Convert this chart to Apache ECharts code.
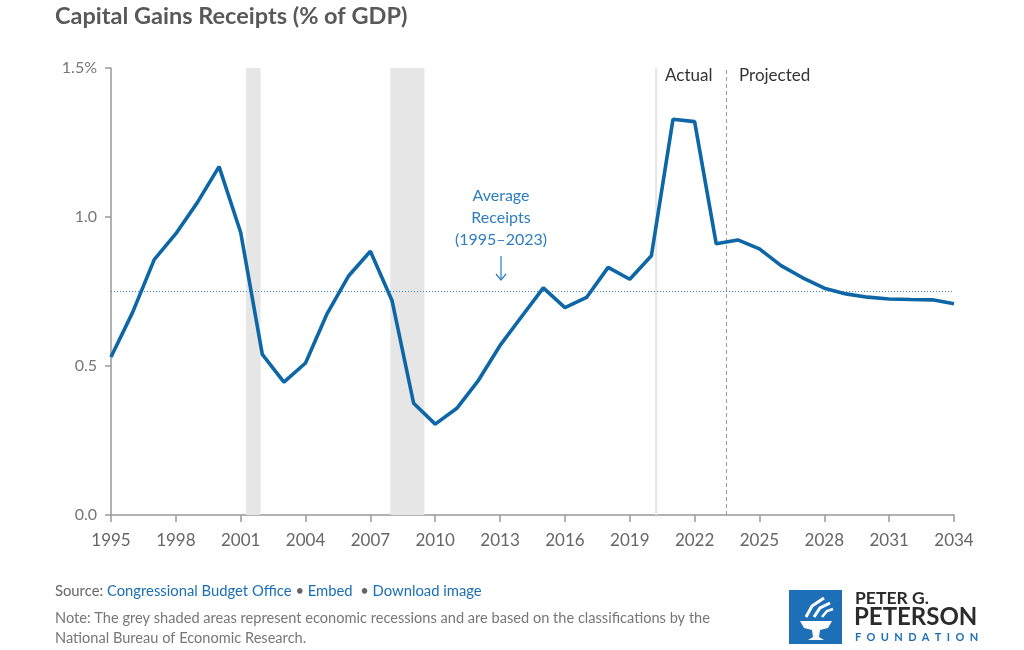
<!DOCTYPE html>
<html>
<head>
<meta charset="utf-8">
<style>
  html, body { margin:0; padding:0; background:#fff; }
  #chart { width:1024px; height:650px; }
</style>
<script src="https://cdn.jsdelivr.net/npm/echarts@6/dist/echarts.min.js"></script>
</head>
<body>
<div id="chart"></div>
<script>
const years = [1995,1996,1997,1998,1999,2000,2001,2002,2003,2004,2005,2006,2007,2008,2009,2010,2011,2012,2013,2014,2015,2016,2017,2018,2019,2020,2021,2022,2023,2024,2025,2026,2027,2028,2029,2030,2031,2032,2033,2034];
const receipts = [0.53,0.68,0.857,0.944,1.049,1.169,0.948,0.539,0.446,0.51,0.676,0.803,0.885,0.72,0.375,0.305,0.358,0.452,0.569,0.666,0.762,0.696,0.73,0.831,0.791,0.870,1.328,1.320,0.910,0.923,0.893,0.837,0.796,0.761,0.742,0.731,0.725,0.723,0.722,0.709];
const averageReceipts = 0.75;
const recessions = [[2001.25, 2001.92], [2007.92, 2009.5], [2020.17, 2020.27]];
const projectionStart = 2023.45;
const yTicks = ['0.0','0.5','1.0','1.5%'];

const chart = echarts.init(document.getElementById('chart'));
const FONT = 'Lato, "Open Sans", sans-serif';
const option = {
  animation: false,
  textStyle: { fontFamily: FONT },
  grid: { left: 111, right: 70, top: 68, bottom: 135 },
  xAxis: {
    type: 'value', min: 1995, max: 2034, interval: 3,
    axisLine: { show: true, lineStyle: { color: '#999', width: 1.5 } },
    axisTick: { show: true, length: 7, lineStyle: { color: '#999', width: 1.5 } },
    axisLabel: { color: '#666', fontSize: 17, margin: 17, fontFamily: FONT, formatter: v => String(v) },
    splitLine: { show: false }
  },
  yAxis: {
    type: 'value', min: 0, max: 1.5, interval: 0.5,
    axisLine: { show: true, lineStyle: { color: '#999', width: 1.5 } },
    axisTick: { show: true, length: 6, lineStyle: { color: '#999', width: 1.5 } },
    axisLabel: { color: '#777', fontSize: 16, margin: 14, fontFamily: FONT,
      formatter: v => yTicks[Math.round(v / 0.5)] },
    splitLine: { show: false }
  },
  series: [{
    type: 'line',
    data: years.map((y, i) => [y, receipts[i]]),
    showSymbol: false,
    lineStyle: { color: '#0d66a6', width: 3.6 },
    z: 5,
    markArea: {
      silent: true,
      itemStyle: { color: '#e6e6e6' },
      data: recessions.map(r => [{ xAxis: r[0] }, { xAxis: r[1] }])
    },
    markLine: {
      silent: true, symbol: 'none',
      label: { show: false },
      data: [
        { yAxis: averageReceipts, lineStyle: { color: '#3a86c8', type: [1, 2], width: 1 } },
        { xAxis: projectionStart, lineStyle: { color: '#999', type: [4, 3], width: 1 } }
      ]
    }
  }],
  graphic: [
    { type: 'text', left: 55, top: 4, style: { text: 'Capital Gains Receipts (% of GDP)', fill: '#595959', font: 'bold 23.5px ' + FONT } },
    { type: 'text', left: 665, top: 67, style: { text: 'Actual', fill: '#333', font: '17px ' + FONT } },
    { type: 'text', left: 739, top: 67, style: { text: 'Projected', fill: '#333', font: '17px ' + FONT } },
    { type: 'text', x: 501, y: 185, style: { text: 'Average\nReceipts\n(1995–2023)', fill: '#2f7ec0', font: '16px ' + FONT, align: 'center', lineHeight: 22 } },
    { type: 'line', shape: { x1: 501, y1: 256, x2: 501, y2: 280 }, style: { stroke: '#2f7ec0', lineWidth: 1.2 } },
    { type: 'polyline', shape: { points: [[496, 274], [501, 280], [506, 274]] }, style: { stroke: '#2f7ec0', lineWidth: 1.2, fill: 'none' } },
    { type: 'text', left: 55, top: 584, style: {
      rich: {
        g: { fill: '#666', font: '14.8px ' + FONT },
        b: { fill: '#1a6fb5', font: '14.8px ' + FONT }
      },
      text: '{g|Source: }{b|Congressional Budget Office}{g| • }{b|Embed}{g|  • }{b|Download image}'
    } },
    { type: 'text', left: 55, top: 608, style: { text: 'Note: The grey shaded areas represent economic recessions and are based on the classifications by the\nNational Bureau of Economic Research.', fill: '#777', font: '14.6px ' + FONT, lineHeight: 20 } },
    // logo
    { type: 'rect', shape: { x: 789, y: 590, width: 53, height: 54 }, style: { fill: '#1d6fb8' } },
    { type: 'polygon', shape: { points: [[800,621],[832,621],[828,628],[820,630],[819,637],[824,640],[808,640],[813,637],[812,630],[804,628]] }, style: { fill: '#fff' } },
    { type: 'polyline', shape: { points: [[806,617],[812,606],[824,598]] }, style: { stroke: '#fff', lineWidth: 3, fill: 'none' } },
    { type: 'polyline', shape: { points: [[814,617],[820,608],[830,603]] }, style: { stroke: '#fff', lineWidth: 3, fill: 'none' } },
    { type: 'polyline', shape: { points: [[822,617],[827,611],[833,609]] }, style: { stroke: '#fff', lineWidth: 2.5, fill: 'none' } },
    { type: 'text', left: 855, top: 589, style: { text: 'PETER G.', fill: '#2b2b2b', font: 'bold 17.5px ' + FONT } },
    { type: 'text', left: 854, top: 605, style: { text: 'PETERSON', fill: '#2b2b2b', font: 'bold 24px ' + FONT } },
    { type: 'text', left: 855, top: 632, style: { text: 'F  O  U  N  D  A  T  I  O  N', fill: '#1d6fb8', font: 'bold 11px ' + FONT } }
  ]
};
chart.setOption(option);
</script>
</body>
</html>
